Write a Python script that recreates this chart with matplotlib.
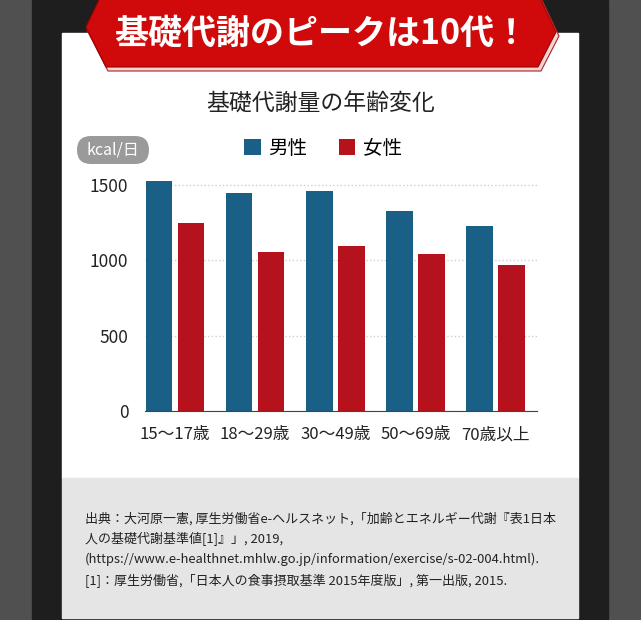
import matplotlib
matplotlib.use("Agg")
import matplotlib.pyplot as plt
from matplotlib.patches import Rectangle, Polygon, FancyBboxPatch
import numpy as np

plt.rcParams['font.family'] = ['Noto Sans CJK JP', 'DejaVu Sans']

# data
age_groups = ['15〜17歳', '18〜29歳', '30〜49歳', '50〜69歳', '70歳以上']
male = [1525, 1450, 1460, 1330, 1225]
female = [1250, 1055, 1095, 1045, 970]
y_ticks = [0, 500, 1000, 1500]

title = '基礎代謝量の年齢変化'
banner = '基礎代謝のピークは10代！'
unit = 'kcal/日'
source = ('出典：大河原一憲, 厚生労働省e-ヘルスネット,「加齢とエネルギー代謝『表1日本\n'
          '人の基礎代謝基準値[1]』」, 2019,\n'
          '(https://www.e-healthnet.mhlw.go.jp/information/exercise/s-02-004.html).\n'
          '[1]：厚生労働省,「日本人の食事摂取基準 2015年度版」, 第一出版, 2015.')

male_color = '#1a5f85'
female_color = '#b5121e'

W, H = 641, 620
fig = plt.figure(figsize=(W / 100, H / 100), dpi=100)

# background layer in pixel coords
bg = fig.add_axes([0, 0, 1, 1])
bg.set_xlim(0, W)
bg.set_ylim(H, 0)
bg.axis('off')
bg.add_patch(Rectangle((0, 0), W, H, color='#505050'))
bg.add_patch(Rectangle((32, 0), 576, H, color='#1e1e1e'))
bg.add_patch(Rectangle((62, 33), 516, 445, color='white'))
bg.add_patch(Rectangle((62, 478), 516, 140, color='#e5e5e5'))

# banner
bg.add_patch(Polygon([(100, -2), (541, -2), (559, 36), (541, 71), (108, 71), (87, 30)],
                     closed=True, facecolor='#f2d6d6', edgecolor='#b02020', lw=0.8))
bg.add_patch(Polygon([(100, -2), (540, -2), (556, 32), (538, 67), (106, 67), (86, 27)],
                     closed=True, facecolor='#d00a0a', edgecolor='#a00000', lw=0.8))
bg.text(321, 33, banner, color='white', fontsize=24.5, fontweight='bold',
        ha='center', va='center')

bg.text(321, 104, title, color='#222222', fontsize=16.5, ha='center', va='center')

bg.add_patch(FancyBboxPatch((77, 136), 72, 28, boxstyle='round,pad=0,rounding_size=14',
                            facecolor='#9a9a9a', edgecolor='none'))
bg.text(113, 150, unit, color='white', fontsize=11.5, ha='center', va='center')

bg.text(85, 512, source, color='#222222', fontsize=9.35, ha='left', va='top',
        linespacing=1.62)

# chart
ax = fig.add_axes([145 / W, (H - 411) / H, 392 / W, 235 / H])
ax.set_facecolor('none')
x = np.arange(len(age_groups))
b1 = ax.bar(x - 0.2, male, width=0.333, color=male_color, label='男性', zorder=3)
b2 = ax.bar(x + 0.2, female, width=0.333, color=female_color, label='女性', zorder=3)

ax.set_xlim(-0.375, 4.52)
ax.set_ylim(0, 1560)
ax.set_yticks(y_ticks)
ax.set_xticks(x)
ax.set_xticklabels(age_groups)
ax.tick_params(axis='both', length=0, colors='#222222')
ax.tick_params(axis='y', pad=12, labelsize=12.5)
ax.tick_params(axis='x', pad=11, labelsize=12)
ax.grid(axis='y', color='#d0d0d0', linestyle=':', linewidth=1, zorder=0)
for s in ['top', 'right', 'left']:
    ax.spines[s].set_visible(False)
ax.spines['bottom'].set_color('#444444')
ax.spines['bottom'].set_zorder(4)

fig.legend(handles=[b1, b2], loc='center', bbox_to_anchor=(323 / W, 1 - 148 / H),
           ncol=2, frameon=False, fontsize=14, handlelength=0.85, handleheight=0.85,
           handletextpad=0.4, columnspacing=1.6)

fig.savefig('out.png', dpi=100)
